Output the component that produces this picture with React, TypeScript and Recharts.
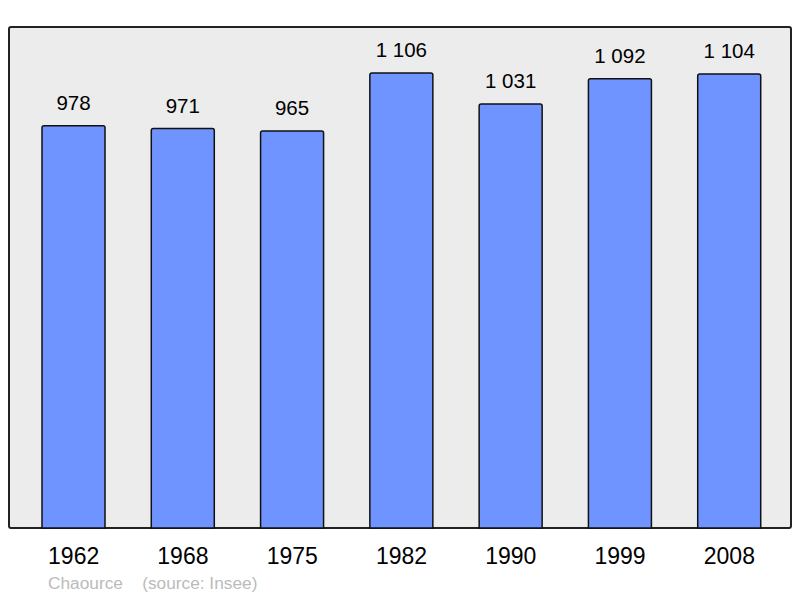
import { BarChart, Bar, XAxis, YAxis, LabelList } from 'recharts'

const years = ['1962', '1968', '1975', '1982', '1990', '1999', '2008']
const population = [978, 971, 965, 1106, 1031, 1092, 1104]
const commune = 'Chaource'
const source = '(source: Insee)'

const data = years.map((year, i) => ({ year, population: population[i] }))

const formatThousands = (v: number) => String(v).replace(/\B(?=(\d{3})+(?!\d))/g, ' ')

const FONT = '"Liberation Sans", Arial, sans-serif'

export default function App() {
  return (
    <div style={{ position: 'absolute', left: 0, top: 0, width: 800, height: 598, background: '#fff', fontFamily: FONT }}>
      {/* plot frame */}
      <div
        style={{
          position: 'absolute',
          left: 8,
          top: 26,
          width: 780,
          height: 499,
          background: '#ececec',
          border: '2px solid #222',
          borderRadius: 3,
        }}
      />
      <div style={{ position: 'absolute', left: 0, top: 0 }}>
        <BarChart
          width={800}
          height={598}
          data={data}
          margin={{ top: 27, right: 9, left: 9, bottom: 40 }}
          barSize={63}
        >
          <XAxis
            dataKey="year"
            height={30}
            axisLine={false}
            tickLine={false}
            padding={{ left: 10, right: 7 }}
            tick={{ fill: '#000', fontSize: 23, fontFamily: FONT }}
            dy={12}
          />
          <YAxis hide domain={[0, 1218]} />
          <Bar
            dataKey="population"
            fill="#7094ff"
            stroke="#111"
            strokeWidth={1.5}
            radius={[2, 2, 0, 0]}
            isAnimationActive={false}
          >
            <LabelList
              dataKey="population"
              position="top"
              offset={16}
              formatter={(v: number) => formatThousands(v)}
              style={{ fill: '#000', fontSize: 20.5, fontFamily: FONT }}
            />
          </Bar>
        </BarChart>
      </div>
      <div
        style={{
          position: 'absolute',
          left: 48,
          top: 573,
          fontSize: 17.3,
          color: '#bbb',
          whiteSpace: 'pre',
        }}
      >
        {commune + '    ' + source}
      </div>
    </div>
  )
}
